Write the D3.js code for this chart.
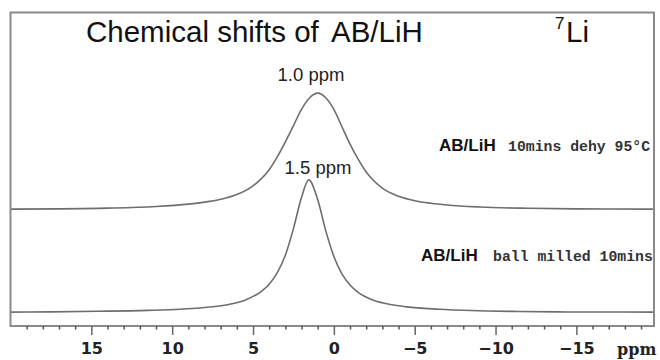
<!DOCTYPE html>
<html>
<head>
<meta charset="utf-8">
<script src="https://cdn.jsdelivr.net/npm/d3@7/dist/d3.min.js"></script>
<style>
  html, body { margin: 0; padding: 0; background: #fff; }
  svg { display: block; }
</style>
</head>
<body>
<svg id="chart" width="660" height="360"></svg>
<script>
// ---- data ----
// upper trace: AB/LiH 10mins dehy 95°C  (peak at 1.0 ppm)
const shiftDehy = [20, 17, 14, 11, 9, 8, 7, 6, 5, 4.5, 4, 3.5, 3, 2.5, 2, 1.5, 1, 0.5, 0, -0.5, -1, -1.5, -2, -2.5, -3, -4, -5, -6, -7, -9, -12, -15, -19.8];
const intDehy   = [0, 0.2, 0.8, 2.2, 4.3, 6, 8.5, 12.5, 20, 26, 34, 45, 58, 72, 86, 96, 100, 96, 86, 71, 56, 43, 32, 24, 18, 11, 7.2, 5, 3.5, 1.8, 0.7, 0.2, 0];
// lower trace: AB/LiH ball milled 10mins (peak at 1.5 ppm)
const shiftMilled = [20, 17.5, 14.5, 11.5, 9.5, 7.5, 6.5, 5.5, 4.5, 4, 3.5, 3, 2.5, 2, 1.55, 1, 0.5, 0, -0.5, -1, -1.5, -2.5, -3.5, -4.5, -6.5, -8.5, -11.5, -14.5, -19.8];
const intMilled   = [0, 0.2, 0.7, 1.5, 2.5, 4.6, 6.6, 10.3, 17.7, 24, 34, 49, 72, 99, 114, 97, 70, 48, 33, 23.4, 17, 10, 6.5, 4.5, 2.5, 1.3, 0.5, 0.1, 0];

const majorTicks = [15, 10, 5, 0, -5, -10, -15];
const minorTicks = d3.range(-19, 20, 1).filter(v => v % 5 !== 0);
const peakLabels = ["1.0 ppm", "1.5 ppm"];
const sampleNames = ["10mins dehy 95\u00B0C", "ball milled 10mins"];

// ---- layout ----
const svg = d3.select("#chart");
const frame = { left: 10.5, right: 654, top: 12.5, bottom: 326 };

const x = d3.scaleLinear().domain([20, -19.8]).range([frame.left, frame.right]);
const y = d3.scaleLinear().domain([-12, 258.3]).range([frame.bottom, frame.top]);
const offsetDehy = 88.8;   // vertical stacking of the upper spectrum

const line = d3.line()
  .x(d => x(d[0]))
  .y(d => y(d[1]))
  .curve(d3.curveMonotoneX);

const traces = [
  { pts: shiftDehy.map((s, i) => [s, intDehy[i] + offsetDehy]) },
  { pts: shiftMilled.map((s, i) => [s, intMilled[i]]) }
];

svg.selectAll("path.trace").data(traces).join("path")
  .attr("class", "trace")
  .attr("d", d => line(d.pts))
  .attr("fill", "none")
  .attr("stroke", "#6e6e6e")
  .attr("stroke-width", 1.6);

// frame
svg.append("rect")
  .attr("x", frame.left).attr("y", frame.top)
  .attr("width", frame.right - frame.left).attr("height", frame.bottom - frame.top)
  .attr("fill", "none").attr("stroke", "#8a8a8a").attr("stroke-width", 2);

// axis
const axisMajor = d3.axisBottom(x).tickValues(majorTicks).tickSize(9).tickPadding(8)
  .tickFormat(d3.format("d"));
const gA = svg.append("g").attr("transform", `translate(0,${frame.bottom})`).call(axisMajor);
gA.select(".domain").remove();
gA.selectAll(".tick line").attr("stroke", "#666").attr("stroke-width", 1.5);
gA.selectAll(".tick text")
  .attr("font-family", "'DejaVu Sans', sans-serif")
  .attr("font-weight", "bold").attr("font-size", 16).attr("fill", "#222");

const axisMinor = d3.axisBottom(x).tickValues(minorTicks).tickSize(3.5).tickFormat("");
const gM = svg.append("g").attr("transform", `translate(0,${frame.bottom})`).call(axisMinor);
gM.select(".domain").remove();
gM.selectAll(".tick line").attr("stroke", "#555").attr("stroke-width", 1.5);

svg.append("text").attr("x", 617).attr("y", 355)
  .attr("font-family", "'DejaVu Serif', serif").attr("font-weight", "bold")
  .attr("font-size", 16).attr("fill", "#222").text("ppm");

// title
const title = svg.append("text").attr("y", 42)
  .attr("font-family", "'Liberation Sans', Arial, sans-serif")
  .attr("font-size", 29.5).attr("fill", "#111");
title.append("tspan").attr("x", 86).text("Chemical shifts of");
title.append("tspan").attr("x", 331).text("AB/LiH");
svg.append("text").attr("x", 555).attr("y", 29)
  .attr("font-family", "'Liberation Sans', Arial, sans-serif")
  .attr("font-size", 17).attr("fill", "#111").text("7");
svg.append("text").attr("x", 566).attr("y", 42)
  .attr("font-family", "'Liberation Sans', Arial, sans-serif")
  .attr("font-size", 29.5).attr("fill", "#111").text("Li");

// peak labels
const peakPos = [[311, 81], [318, 174]];
svg.selectAll("text.peak").data(peakLabels).join("text")
  .attr("class", "peak")
  .attr("x", (d, i) => peakPos[i][0]).attr("y", (d, i) => peakPos[i][1])
  .attr("text-anchor", "middle")
  .attr("font-family", "'Liberation Sans', Arial, sans-serif")
  .attr("font-size", 18.5).attr("fill", "#222").text(d => d);

// sample labels
const labPos = [[439, 151, 508], [421, 261, 493]];
sampleNames.forEach((name, i) => {
  svg.append("text").attr("x", labPos[i][0]).attr("y", labPos[i][1])
    .attr("font-family", "'Liberation Sans', Arial, sans-serif")
    .attr("font-weight", "bold").attr("font-size", 17).attr("fill", "#111").text("AB/LiH");
  svg.append("text").attr("x", labPos[i][2]).attr("y", labPos[i][1])
    .attr("font-family", "'Liberation Mono', 'Courier New', monospace")
    .attr("font-weight", "bold").attr("font-size", 14.8).attr("fill", "#333").text(name);
});
</script>
</body>
</html>
